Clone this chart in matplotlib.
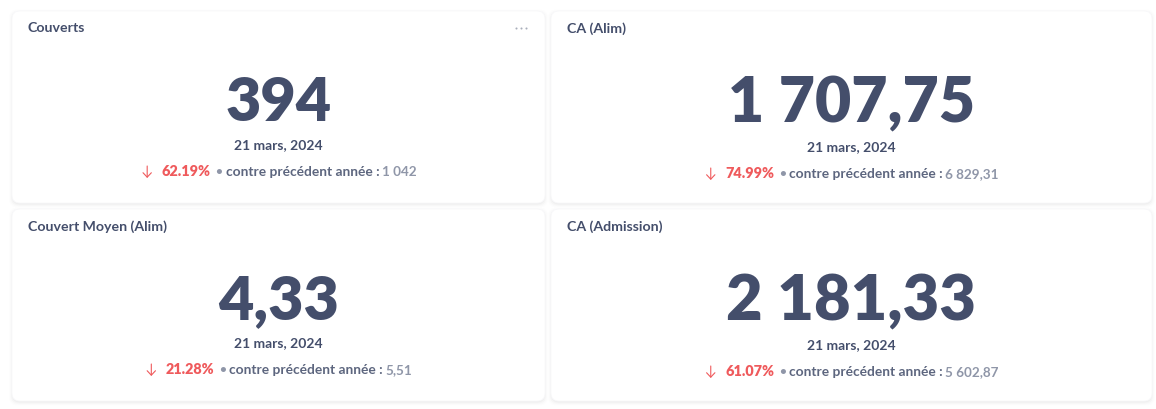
import matplotlib
matplotlib.use("Agg")
import matplotlib.pyplot as plt
from matplotlib.patches import FancyBboxPatch

titles = ["Couverts", "CA (Alim)", "Couvert Moyen (Alim)", "CA (Admission)"]
values = ["394", "1 707,75", "4,33", "2 181,33"]
dates = ["21 mars, 2024", "21 mars, 2024", "21 mars, 2024", "21 mars, 2024"]
changes = ["62.19%", "74.99%", "21.28%", "61.07%"]
previous = ["1 042", "6 829,31", "5,51", "5 602,87"]
compare_label = "contre précédent année :"

# card boxes in pixels: left, top, width, height
boxes = [(12, 11, 533, 192), (551, 11, 601, 192), (12, 209, 533, 192), (551, 209, 601, 192)]
value_sizes = [44, 45, 44, 45.5]
value_y = [103, 104, 301, 302]
date_y = [145, 147, 343, 345]
foot_y = [172, 174, 370, 372]

DARK = "#444e6b"
MID = "#5d667f"
LIGHT = "#8f96a8"
RED = "#ef5a5c"

plt.rcParams["font.family"] = ["Lato", "DejaVu Sans"]

fig = plt.figure(figsize=(11.56, 4.09), dpi=100, facecolor="white")
ax = fig.add_axes([0, 0, 1, 1])
ax.set_xlim(0, 1156)
ax.set_ylim(409, 0)
ax.axis("off")
renderer = fig.canvas.get_renderer()


def put(x, y, s, **kw):
    # returns the width so the footer pieces can be chained
    t = ax.text(x, y, s, va="center", **kw)
    return t, t.get_window_extent(renderer).width


def rounded(x, y, w, h, **kw):
    ax.add_patch(FancyBboxPatch((x, y), w, h, boxstyle="round,pad=0,rounding_size=8", **kw))


for i, (x, y, w, h) in enumerate(boxes):
    # soft shadow under the card
    for grow, alpha in [(3, 0.006), (2, 0.012), (1, 0.018), (0, 0.025)]:
        rounded(x - grow, y - grow + 1.5, w + 2 * grow, h + 2 * grow,
                fc="black", ec="none", alpha=alpha)
    rounded(x, y, w, h, fc="white", ec="#f8f8fa", lw=0.6)

    cx = x + w / 2
    ax.text(x + 16, y + 17.5, titles[i], fontsize=10.2, fontweight="bold",
            color=DARK, va="center")
    ax.text(cx, value_y[i], values[i], fontsize=value_sizes[i], fontweight="heavy",
            color=DARK, ha="center", va="center")
    ax.text(cx, date_y[i], dates[i], fontsize=10, fontweight="bold",
            color=DARK, ha="center", va="center")

    # footer row, measured first then centred
    pieces = [(changes[i], RED, "heavy", 10.4), ("•", LIGHT, "bold", 8.5),
              (compare_label, MID, "bold", 9.9), (previous[i], LIGHT, "bold", 9.7)]
    gaps = [4.5, 3.5, 2.5, 0]
    widths = []
    for s, c, wt, fs in pieces:
        t, tw = put(0, 0, s, fontsize=fs, fontweight=wt)
        widths.append(tw)
        t.remove()
    arrow_w = 21
    total = arrow_w + sum(widths) + sum(gaps)
    px = cx - total / 2
    fy = foot_y[i]
    ax.annotate("", xy=(px + 6.5, fy + 6), xytext=(px + 6.5, fy - 6),
                arrowprops=dict(arrowstyle="->,head_length=0.32,head_width=0.3",
                                color=RED, lw=0.8, shrinkA=0, shrinkB=0))
    px += arrow_w
    for (s, c, wt, fs), tw, g in zip(pieces, widths, gaps):
        put(px, fy, s, fontsize=fs, fontweight=wt, color=c)
        px += tw + g

# menu dots on the first card only
ax.scatter([516, 521, 526], [28, 28, 28], s=2.2, color="#a9aebb", linewidths=0)

fig.savefig("out.png", dpi=100)
